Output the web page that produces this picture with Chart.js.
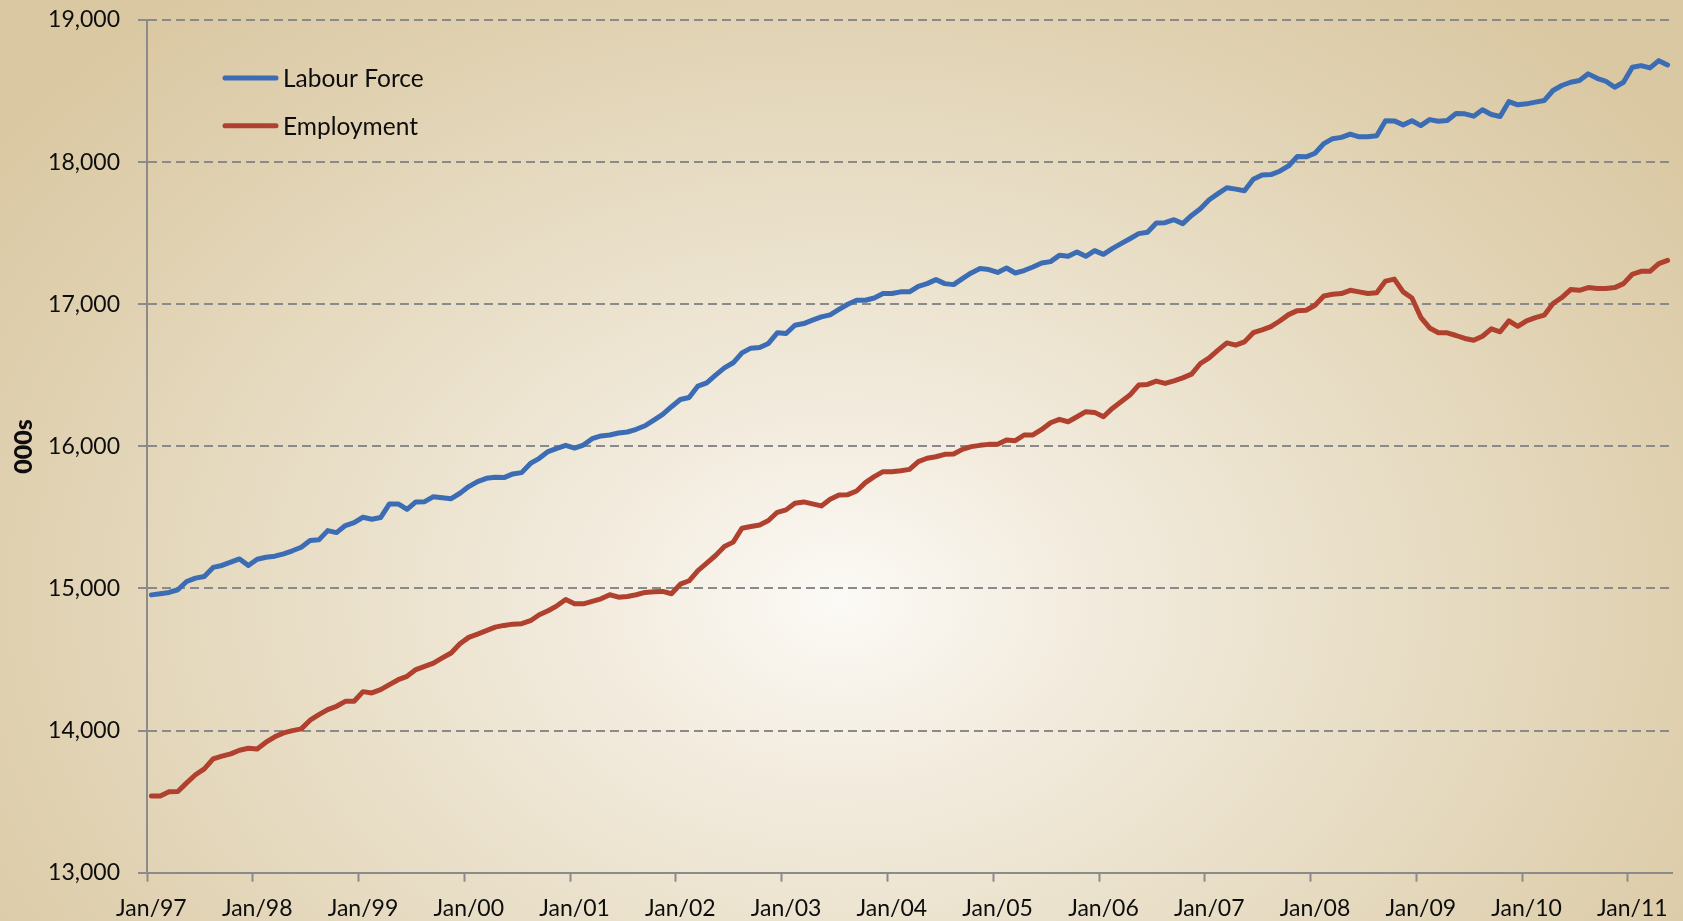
<!DOCTYPE html>
<html>
<head>
<meta charset="utf-8">
<script src="https://cdn.jsdelivr.net/npm/chart.js@4.4.1/dist/chart.umd.min.js"></script>
<style>
html, body {
  margin: 0; padding: 0; width: 1683px; height: 921px; overflow: hidden;
  background: radial-gradient(ellipse 1050px 780px at 840px 600px, #fcfaf6 0%, #f3ecdf 22%, #e9dfc8 50%, #e0d1b1 78%, #dac8a2 100%);
}
canvas { display: block; }
</style>
</head>
<body>
<canvas id="c" width="1683" height="921"></canvas>
<script>
// ---- data (monthly, Jan 1997 - May 2011, thousands) ----
const MONTH_NAMES = ['Jan','Feb','Mar','Apr','May','Jun','Jul','Aug','Sep','Oct','Nov','Dec'];
const START_YEAR = 1997;

const labourForce = [
  14955,14963,14972,14991,15049,15073,15084,15148,15162,15185,15208,15162,
  15206,15220,15227,15244,15265,15290,15337,15342,15407,15393,15443,15464,
  15501,15487,15499,15595,15595,15557,15609,15611,15646,15639,15632,15670,
  15717,15752,15775,15782,15780,15806,15815,15880,15916,15963,15986,16007,
  15988,16009,16054,16073,16080,16094,16101,16120,16145,16185,16225,16279,
  16330,16344,16424,16447,16501,16552,16588,16658,16691,16696,16724,16799,
  16794,16852,16864,16888,16911,16925,16963,17000,17028,17028,17044,17075,
  17075,17087,17087,17126,17145,17173,17145,17138,17180,17220,17251,17244,
  17224,17255,17220,17237,17262,17290,17300,17344,17337,17368,17337,17377,
  17351,17391,17426,17461,17497,17506,17571,17574,17595,17567,17625,17672,
  17735,17778,17820,17810,17798,17880,17910,17912,17936,17973,18040,18037,
  18062,18130,18165,18174,18197,18178,18178,18186,18291,18290,18262,18291,
  18257,18299,18287,18293,18342,18340,18323,18368,18335,18321,18426,18403,
  18410,18422,18433,18504,18539,18562,18574,18621,18590,18569,18527,18562,
  18667,18679,18663,18714,18684
];

const employment = [
  13539,13539,13569,13571,13632,13689,13731,13801,13820,13836,13862,13876,
  13871,13918,13956,13984,14000,14012,14073,14112,14148,14171,14206,14206,
  14274,14265,14288,14323,14358,14382,14429,14452,14475,14511,14546,14611,
  14656,14679,14703,14728,14740,14749,14752,14773,14815,14843,14878,14922,
  14892,14892,14909,14927,14956,14939,14944,14956,14972,14977,14979,14963,
  15030,15054,15126,15178,15232,15295,15326,15424,15436,15447,15478,15536,
  15553,15600,15609,15595,15581,15628,15658,15660,15686,15745,15787,15822,
  15822,15829,15838,15892,15916,15927,15944,15946,15979,15998,16007,16014,
  16014,16045,16040,16080,16080,16119,16166,16190,16173,16208,16244,16239,
  16208,16267,16314,16361,16431,16436,16459,16443,16461,16482,16508,16583,
  16623,16677,16728,16712,16735,16800,16820,16843,16882,16927,16955,16958,
  16993,17058,17070,17075,17098,17087,17075,17081,17163,17177,17087,17044,
  16908,16833,16799,16799,16780,16759,16747,16775,16827,16806,16883,16845,
  16883,16906,16923,17005,17047,17103,17098,17117,17110,17110,17117,17145,
  17211,17232,17232,17286,17309
];

const seriesNames = ['Labour Force', 'Employment'];
const seriesColors = ['#3b6cb4', '#b0412e'];
const yMin = 13000, yMax = 19000, yStep = 1000;
const yTitle = '000s';

const categories = labourForce.map((_, i) =>
  MONTH_NAMES[i % 12] + '/' + String((START_YEAR + Math.floor(i / 12)) % 100).padStart(2, '0'));

// ---- styles ----
const AXIS = '#8b8b8b';
const GRID = '#8a8a8a';
const FONT = 'Lato';

const inlineLegend = {
  id: 'inlineLegend',
  afterDraw(chart) {
    const ctx = chart.ctx;
    chart.data.datasets.forEach((ds, k) => {
      const y = 78 + k * 47.7;
      ctx.save();
      ctx.strokeStyle = ds.borderColor;
      ctx.lineWidth = 5;
      ctx.lineCap = 'round';
      ctx.beginPath();
      ctx.moveTo(225, y);
      ctx.lineTo(276, y);
      ctx.stroke();
      ctx.fillStyle = '#0d0d0d';
      ctx.font = '24.5px ' + FONT;
      ctx.textBaseline = 'middle';
      ctx.textAlign = 'left';
      ctx.fillText(ds.label, 283, y + 1);
      ctx.restore();
    });
  }
};

new Chart(document.getElementById('c'), {
  type: 'line',
  data: {
    labels: categories,
    datasets: [
      { label: seriesNames[0], data: labourForce, borderColor: seriesColors[0] },
      { label: seriesNames[1], data: employment, borderColor: seriesColors[1] }
    ].map(d => Object.assign(d, {
      borderWidth: 5, pointRadius: 0, tension: 0, fill: false,
      borderJoinStyle: 'round', borderCapStyle: 'round'
    }))
  },
  options: {
    responsive: false,
    devicePixelRatio: 1,
    animation: false,
    layout: { padding: { top: 20, right: 11, left: 0, bottom: 0 } },
    plugins: { legend: { display: false }, tooltip: { enabled: false } },
    scales: {
      x: {
        type: 'category',
        offset: true,
        grid: {
          offset: true,
          drawOnChartArea: false,
          drawTicks: true,
          tickLength: 9,
          tickWidth: 2,
          color: 'rgba(0,0,0,0)',
          tickColor: c => (c.index !== undefined && c.index % 12 === 0) ? AXIS : 'rgba(0,0,0,0)'
        },
        border: { display: true, color: AXIS, width: 2 },
        ticks: {
          autoSkip: false, maxRotation: 0, minRotation: 0, padding: 13,
          color: '#0d0d0d', font: { family: FONT, size: 23 },
          callback: function (v, i) { return i % 12 === 0 ? this.getLabelForValue(v) : ''; }
        },
        afterFit: s => { s.height = 48.3; }
      },
      y: {
        min: yMin, max: yMax,
        ticks: {
          stepSize: yStep, padding: 18, color: '#0d0d0d', font: { family: FONT, size: 23 },
          callback: v => Number(v).toLocaleString('en-US')
        },
        grid: { color: GRID, lineWidth: 2, tickLength: 9, tickColor: AXIS, tickWidth: 2, tickBorderDash: [] },
        border: { display: true, color: AXIS, width: 2, dash: [9, 5] },
        title: {
          display: true, text: yTitle, color: '#0d0d0d',
          font: { family: FONT, size: 25, weight: '900' }, padding: { top: 9, bottom: 0 }
        },
        afterFit: s => { s.width = 147; s.paddingTop = 0; s.paddingBottom = 0; }
      }
    }
  },
  plugins: [inlineLegend]
});
</script>
</body>
</html>
